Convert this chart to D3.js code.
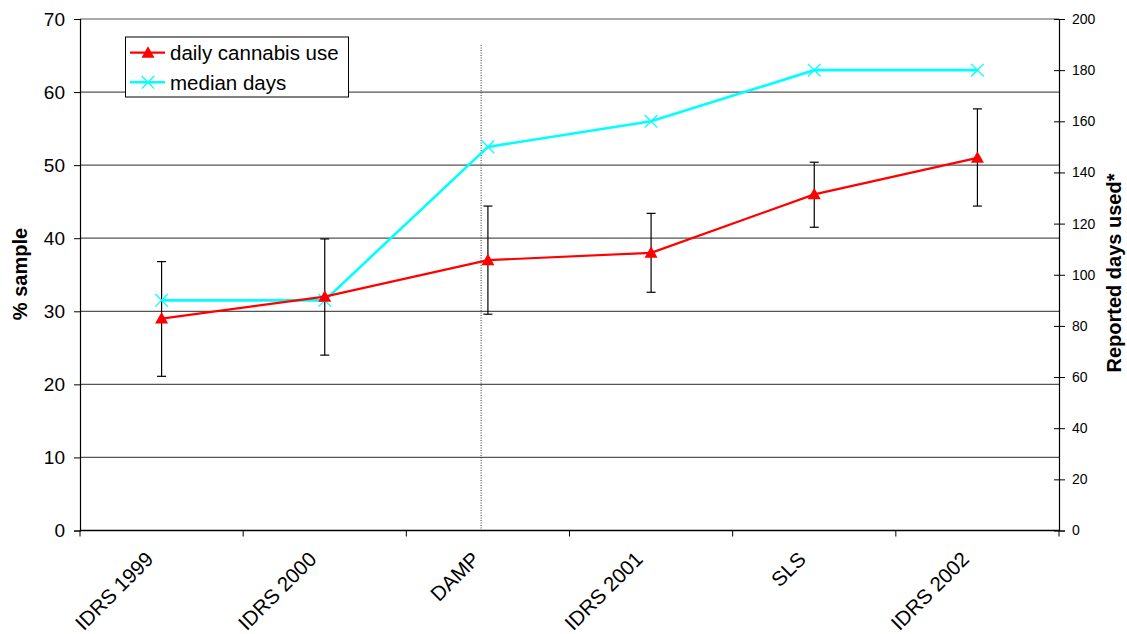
<!DOCTYPE html>
<html><head><meta charset="utf-8">
<script src="https://cdn.jsdelivr.net/npm/d3@7/dist/d3.min.js"></script>
<style>body{margin:0;background:#fff}svg{display:block}text{font-family:"Liberation Sans",Arial,sans-serif;fill:#000}</style>
</head><body><svg id="c" width="1127" height="634"></svg>
<script>
const categories = ["IDRS 1999","IDRS 2000","DAMP","IDRS 2001","SLS","IDRS 2002"];
const dailyUse = [29, 32, 37, 38, 46, 51];
const errLow = [21.1, 24.0, 29.6, 32.6, 41.5, 44.4];
const errHigh = [36.8, 39.9, 44.4, 43.4, 50.4, 57.7];
const medianDays = [90, 90, 150, 160, 180, 180];
const leftTicks = [0,10,20,30,40,50,60,70];
const rightTicks = [0,20,40,60,80,100,120,140,160,180,200];

const svg = d3.select("#c");
const L = 80, R = 1059, T = 19, B = 530.5;
const x = d3.scaleBand().domain(categories).range([L, R]).padding(0);
const cx = c => x(c) + x.bandwidth()/2;
const y = d3.scaleLinear().domain([0,70]).range([B, T]);
const y2 = d3.scaleLinear().domain([0,200]).range([B, T]);

// gridlines
svg.append("g").selectAll("line").data(leftTicks.filter(d=>d>0)).join("line")
  .attr("x1", L).attr("x2", R).attr("y1", d=>y(d)).attr("y2", d=>y(d))
  .attr("stroke", "#555").attr("stroke-width", 1.2);

// dotted vertical line
const dampX = cx("DAMP") - 6.8;
svg.append("line").attr("x1", dampX).attr("x2", dampX).attr("y1", 45).attr("y2", B)
  .attr("stroke", "#333").attr("stroke-width", 1).attr("stroke-dasharray", "1,1.5");

// left axis
const gl = svg.append("g").attr("transform", `translate(${L},0)`)
  .call(d3.axisLeft(y).tickValues(leftTicks).tickSize(6).tickPadding(9).tickFormat(d3.format("d")));
gl.select(".domain").attr("stroke", "#000").attr("stroke-width", 1.2);
gl.selectAll(".tick line").attr("stroke", "#000");
gl.selectAll("text").attr("font-size", 19).style("font-family", '"Liberation Sans",Arial,sans-serif');

// right axis
const gr = svg.append("g").attr("transform", `translate(${R},0)`)
  .call(d3.axisRight(y2).tickValues(rightTicks).tickSize(6).tickPadding(7).tickFormat(d3.format("d")));
gr.select(".domain").attr("stroke", "#000").attr("stroke-width", 1.2);
gr.selectAll(".tick line").attr("stroke", "#000").attr("x1", -5);
gr.selectAll("text").attr("font-size", 14).style("font-family", '"Liberation Sans",Arial,sans-serif');

// bottom axis
svg.append("line").attr("x1", L).attr("x2", R).attr("y1", B).attr("y2", B).attr("stroke", "#000").attr("stroke-width", 1.4);
const bounds = categories.map(c => x(c)).concat([x.range()[1]]);
svg.append("g").selectAll("line").data(bounds).join("line")
  .attr("x1", d=>d).attr("x2", d=>d).attr("y1", B).attr("y2", B+6).attr("stroke", "#000");
svg.append("g").selectAll("text").data(categories).join("text")
  .attr("transform", d => `translate(${cx(d)-7},${B+30}) rotate(-45)`)
  .attr("text-anchor", "end").attr("font-size", 20.5).text(d=>d);

// axis titles
svg.append("text").attr("transform", `translate(26.5,274) rotate(-90)`)
  .attr("text-anchor", "middle").attr("font-size", 20).attr("font-weight", "bold").text("% sample");
svg.append("text").attr("transform", `translate(1121,273) rotate(-90)`)
  .attr("text-anchor", "middle").attr("font-size", 20).attr("font-weight", "bold").text("Reported days used*");

// error bars
const eb = svg.append("g").attr("stroke", "#000").attr("stroke-width", 1.2);
categories.forEach((c,i) => {
  const X = cx(c);
  eb.append("line").attr("x1", X).attr("x2", X).attr("y1", y(errLow[i])).attr("y2", y(errHigh[i]));
  eb.append("line").attr("x1", X-4.5).attr("x2", X+4.5).attr("y1", y(errLow[i])).attr("y2", y(errLow[i]));
  eb.append("line").attr("x1", X-4.5).attr("x2", X+4.5).attr("y1", y(errHigh[i])).attr("y2", y(errHigh[i]));
});

// median days line (cyan)
const lineMed = d3.line().x((d,i)=>cx(categories[i])).y(d=>y2(d));
svg.append("path").datum(medianDays).attr("d", lineMed).attr("fill", "none")
  .attr("stroke", "#00ffff").attr("stroke-width", 2.6);
const xMark = (X, Y, s) => `M${X-s},${Y-s}L${X+s},${Y+s}M${X-s},${Y+s}L${X+s},${Y-s}`;
svg.append("g").selectAll("path").data(medianDays).join("path")
  .attr("d", (d,i)=>xMark(cx(categories[i]), y2(d), 6.3))
  .attr("stroke", "#00ffff").attr("stroke-width", 1.3).attr("fill", "none");

// daily use line (red)
const lineUse = d3.line().x((d,i)=>cx(categories[i])).y(d=>y(d));
svg.append("path").datum(dailyUse).attr("d", lineUse).attr("fill", "none")
  .attr("stroke", "#ff0000").attr("stroke-width", 2.2);
const tri = (X, Y) => `M${X},${Y-6.5}L${X+6.5},${Y+5}L${X-6.5},${Y+5}Z`;
svg.append("g").selectAll("path").data(dailyUse).join("path")
  .attr("d", (d,i)=>tri(cx(categories[i]), y(d))).attr("fill", "#ff0000");

// legend
const lg = svg.append("g");
lg.append("rect").attr("x", 125.5).attr("y", 37).attr("width", 223).attr("height", 60)
  .attr("fill", "#fff").attr("stroke", "#000").attr("stroke-width", 1);
lg.append("line").attr("x1", 130).attr("x2", 165).attr("y1", 52.7).attr("y2", 52.7).attr("stroke", "#ff0000").attr("stroke-width", 2.2);
lg.append("path").attr("d", tri(148, 52.7)).attr("fill", "#ff0000");
lg.append("text").attr("x", 170).attr("y", 60).attr("font-size", 20.5).text("daily cannabis use");
lg.append("line").attr("x1", 130).attr("x2", 165).attr("y1", 82.3).attr("y2", 82.3).attr("stroke", "#00ffff").attr("stroke-width", 2.6);
lg.append("path").attr("d", xMark(148, 82.3, 6.3)).attr("stroke", "#00ffff").attr("stroke-width", 1.3);
lg.append("text").attr("x", 170).attr("y", 89.5).attr("font-size", 20.5).text("median days");
</script></body></html>
